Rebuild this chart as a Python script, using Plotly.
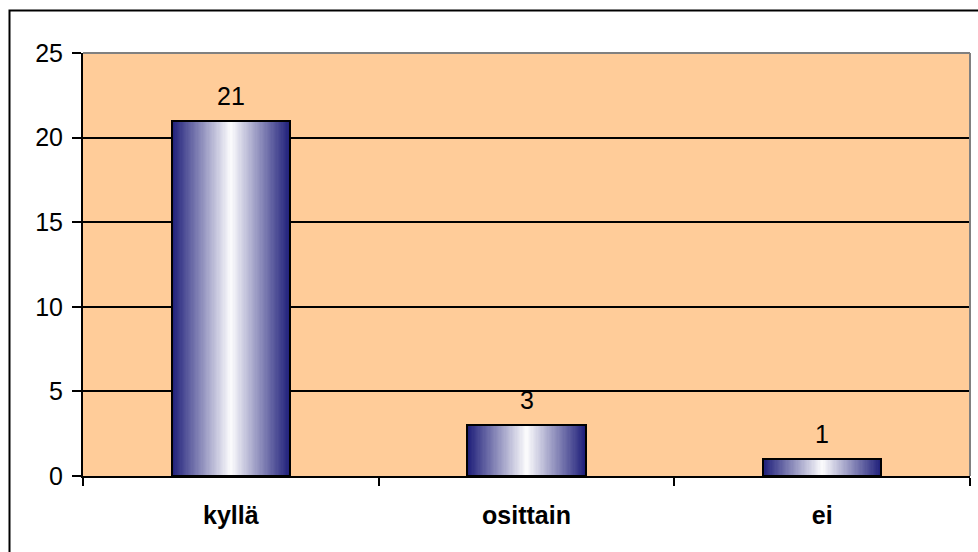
import plotly.graph_objects as go

# Survey answers and their counts
categories = ["kyllä", "osittain", "ei"]
counts = [21, 3, 1]
y_ticks = [0, 5, 10, 15, 20, 25]

W, H = 978, 552
M_L, M_R, M_T, M_B = 83, 8, 53, 76
PW, PH = W - M_L - M_R, H - M_T - M_B

BAR_W = 0.4
NAVY = (31, 31, 122)
WHITE = (255, 255, 255)
STEPS = 48
FONT = "Liberation Sans, Arial, sans-serif"
FS = 25

fig = go.Figure()

# Horizontal navy -> white -> navy shading built from nested overlay bars
for k in range(STEPS):
    t = k / STEPS
    r, g, b = (round(NAVY[i] + (WHITE[i] - NAVY[i]) * t) for i in range(3))
    fig.add_trace(go.Bar(
        x=categories, y=counts,
        width=BAR_W * (1 - t),
        marker=dict(color=f"rgb({r},{g},{b})", line=dict(width=0)),
        hoverinfo="skip", showlegend=False,
    ))

# Outline on top of the shading
fig.add_trace(go.Bar(
    x=categories, y=counts, width=BAR_W,
    marker=dict(color="rgba(0,0,0,0)", line=dict(color="black", width=2)),
    showlegend=False,
))

# Value labels above each bar
for c, v in zip(categories, counts):
    fig.add_annotation(x=c, y=v, text=str(v), showarrow=False,
                       yshift=25, yanchor="middle",
                       font=dict(family=FONT, size=FS, color="black"))

# Plot-area frame (top and right) in grey
fig.add_shape(type="line", xref="paper", yref="paper", x0=0, x1=1, y0=1, y1=1,
              line=dict(color="#808080", width=2), layer="above")
fig.add_shape(type="line", xref="paper", yref="paper", x0=1, x1=1, y0=0, y1=1,
              line=dict(color="#808080", width=2), layer="above")

# Chart-area border
fig.add_shape(type="rect", xref="paper", yref="paper",
              x0=(9.5 - M_L) / PW, x1=1.2,
              y0=-0.4, y1=1 + (M_T - 10.5) / PH,
              line=dict(color="black", width=2), fillcolor="rgba(0,0,0,0)",
              layer="above")

fig.update_layout(
    width=W, height=H,
    margin=dict(l=M_L, r=M_R, t=M_T, b=M_B, pad=0),
    paper_bgcolor="white",
    plot_bgcolor="#FFCC99",
    barmode="overlay",
    bargap=0,
    font=dict(family=FONT, size=FS, color="black"),
    xaxis=dict(
        type="category",
        range=[-0.5, 2.5],
        showline=True, linecolor="black", linewidth=2,
        ticks="outside", tickson="boundaries", ticklen=8,
        tickcolor="black", tickwidth=2,
        showgrid=False, zeroline=False,
        tickfont=dict(family=FONT, size=FS, color="black", weight="bold"),
        ticklabelstandoff=16,
    ),
    yaxis=dict(
        range=[0, 25],
        tickvals=y_ticks,
        showline=True, linecolor="black", linewidth=2,
        ticks="outside", ticklen=9, tickcolor="black", tickwidth=2,
        showgrid=True, gridcolor="black", gridwidth=1.5,
        zeroline=False,
        tickfont=dict(family=FONT, size=FS, color="black"),
        ticklabelstandoff=4,
    ),
)

fig.write_html("out.html")
